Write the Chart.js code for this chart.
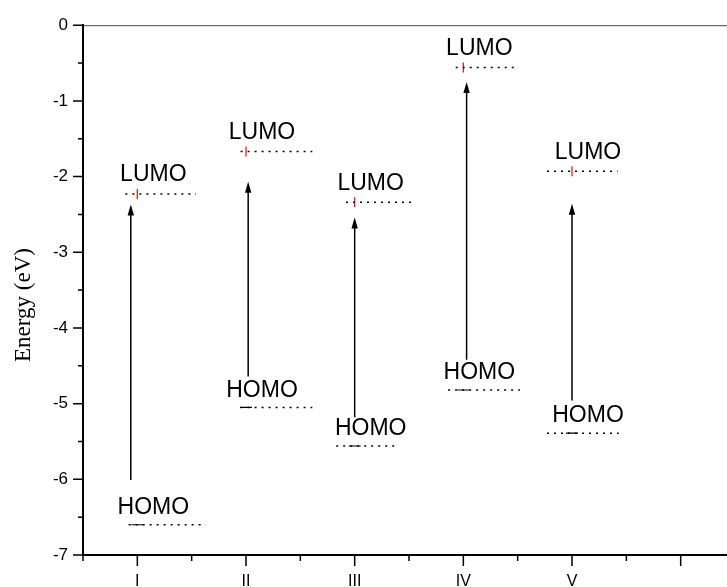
<!DOCTYPE html>
<html lang="en">
<head>
<meta charset="UTF-8">
<title>HOMO / LUMO levels</title>
<script src="https://cdn.jsdelivr.net/npm/chart.js"></script>
<style>
  html, body { margin: 0; padding: 0; background: #fff; overflow: hidden; }
  canvas { display: block; }
</style>
</head>
<body>
<canvas id="levels" width="727" height="587"></canvas>
<script>
// compounds on the x axis
const categories = ['I', 'II', 'III', 'IV', 'V']
// energy levels (eV)
const lumo = [-2.23, -1.67, -2.34, -0.56, -1.93]
const homo = [-6.60, -5.05, -5.56, -4.82, -5.39]
// extent of each dotted level line, in x units
const lumoFrom = [0.89, 1.95, 2.92, 3.93, 4.77]
const lumoTo = [1.54, 2.61, 3.56, 4.51, 5.42]
const homoFrom = [0.92, 1.95, 2.83, 3.86, 4.77]
const homoTo = [1.63, 2.61, 3.40, 4.52, 5.43]
// transition arrows
const arrowX = [0.94, 2.02, 3.0, 4.03, 5.0]
const arrowFrom = [-6.01, -4.64, -5.18, -4.42, -4.96]
const arrowTo = [-2.37, -2.07, -2.54, -0.75, -2.36]
// tick labels
const yTicks = [0, -1, -2, -3, -4, -5, -6, -7]
const xTicks = [1, 2, 3, 4, 5]

const datasets = []
categories.forEach((c, i) => {
  datasets.push({
    data: [{ x: lumoFrom[i], y: lumo[i] }, { x: lumoTo[i], y: lumo[i] }],
    showLine: true, borderColor: '#000', borderWidth: 1.5, borderDash: [2, 5], pointRadius: 0,
  })
  datasets.push({
    data: [{ x: homoFrom[i], y: homo[i] }, { x: homoTo[i], y: homo[i] }],
    showLine: true, borderColor: '#000', borderWidth: 1.5, borderDash: [2, 5], pointRadius: 0,
  })
})
// data point markers
datasets.push({
  data: lumo.map((v, i) => ({ x: i + 1, y: v })),
  pointStyle: 'line', rotation: 90, pointRadius: 5, borderColor: '#ff0000', borderWidth: 1.2,
})
datasets.push({
  data: homo.map((v, i) => ({ x: i + 1, y: v })),
  pointStyle: 'line', pointRadius: 6, borderColor: '#000', borderWidth: 1.2,
})

const extras = {
  id: 'extras',
  afterDraw(chart) {
    const { ctx, chartArea: a } = chart
    const xs = chart.scales.x
    const ys = chart.scales.y
    ctx.save()

    // top frame line, bottom axis carried on to the edge
    ctx.strokeStyle = '#444'
    ctx.lineWidth = 1
    ctx.beginPath()
    ctx.moveTo(a.left, a.top + 0.5)
    ctx.lineTo(chart.width, a.top + 0.5)
    ctx.stroke()
    ctx.strokeStyle = '#000'
    ctx.lineWidth = 2
    ctx.beginPath()
    ctx.moveTo(a.right - 1, a.bottom)
    ctx.lineTo(chart.width, a.bottom)
    ctx.stroke()

    // tick marks (major and minor)
    ctx.lineWidth = 1.5
    ctx.beginPath()
    for (let v = 0; v >= -7; v -= 0.5) {
      const py = ys.getPixelForValue(v)
      const len = Number.isInteger(v) ? 10 : 5
      ctx.moveTo(a.left - len, py)
      ctx.lineTo(a.left, py)
    }
    for (let v = 0.5; v <= 6; v += 0.5) {
      const px = xs.getPixelForValue(v)
      const len = Number.isInteger(v) ? 11 : 6
      ctx.moveTo(px, a.bottom)
      ctx.lineTo(px, a.bottom + len)
    }
    ctx.stroke()

    // arrows
    ctx.fillStyle = '#000'
    ctx.lineWidth = 1.5
    arrowX.forEach((x, i) => {
      const px = xs.getPixelForValue(x)
      const y0 = ys.getPixelForValue(arrowFrom[i])
      const y1 = ys.getPixelForValue(arrowTo[i])
      ctx.beginPath()
      ctx.moveTo(px, y0)
      ctx.lineTo(px, y1 + 8)
      ctx.stroke()
      ctx.beginPath()
      ctx.moveTo(px, y1)
      ctx.lineTo(px - 3.2, y1 + 11)
      ctx.lineTo(px + 3.2, y1 + 11)
      ctx.closePath()
      ctx.fill()
    })

    // level labels
    ctx.font = '23px "Liberation Sans", Arial, sans-serif'
    ctx.textAlign = 'center'
    ctx.textBaseline = 'middle'
    categories.forEach((c, i) => {
      const px = xs.getPixelForValue(i + 1) + 16
      ctx.fillText('LUMO', px, ys.getPixelForValue(lumo[i]) - 19)
      ctx.fillText('HOMO', px, ys.getPixelForValue(homo[i]) - 17)
    })

    // y axis title
    ctx.translate(24, 305)
    ctx.rotate(-Math.PI / 2)
    ctx.font = '23px "Liberation Serif", "Times New Roman", serif'
    ctx.fillText('Energy (eV)', 0, 0)
    ctx.restore()
  },
}

new Chart(document.getElementById('levels'), {
  type: 'scatter',
  data: { datasets },
  plugins: [extras],
  options: {
    responsive: false,
    animation: false,
    layout: { padding: { top: 24, left: 0, right: 0, bottom: 0 } },
    plugins: { legend: { display: false }, tooltip: { enabled: false } },
    scales: {
      x: {
        type: 'linear',
        min: 0.5,
        max: 6.36,
        afterFit: (s) => { s.height = 32 },
        afterBuildTicks: (s) => { s.ticks = xTicks.map((v) => ({ value: v })) },
        grid: { display: false, drawTicks: false },
        border: { display: true, color: '#000', width: 2 },
        ticks: {
          padding: 17,
          color: '#000',
          font: { family: '"Liberation Sans", Arial, sans-serif', size: 16 },
          callback: (v) => categories[v - 1] ?? '',
        },
      },
      y: {
        type: 'linear',
        min: -7,
        max: 0,
        afterFit: (s) => { s.width = 83 },
        afterBuildTicks: (s) => { s.ticks = yTicks.map((v) => ({ value: v })) },
        grid: { display: false, drawTicks: false },
        border: { display: true, color: '#000', width: 2 },
        ticks: {
          padding: 15,
          color: '#000',
          font: { family: '"Liberation Sans", Arial, sans-serif', size: 17 },
          callback: (v) => String(v),
        },
      },
    },
  },
})
</script>
</body>
</html>
